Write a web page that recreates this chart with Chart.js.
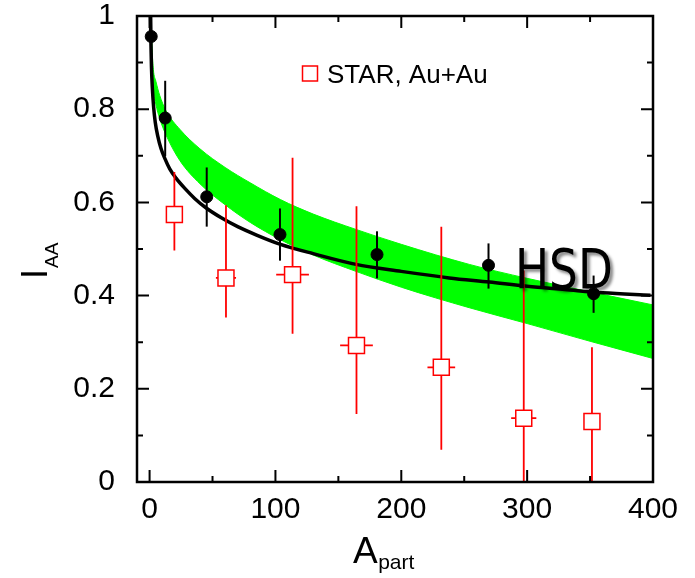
<!DOCTYPE html>
<html>
<head>
<meta charset="utf-8">
<script src="https://cdn.jsdelivr.net/npm/chart.js@4.4.1/dist/chart.umd.min.js"></script>
<style>
html, body { margin: 0; padding: 0; background: #fff; }
#wrap { width: 695px; height: 578px; }
</style>
</head>
<body>
<div id="wrap"><canvas id="chart" width="695" height="578"></canvas></div>
<script>
// black points with error bars
const hsdX = [1.3, 12.4, 45.4, 103.6, 180.7, 269.3, 352.8];
const hsdY = [0.956, 0.781, 0.612, 0.531, 0.488, 0.465, 0.404];
const hsdLo = [0.91, 0.699, 0.548, 0.475, 0.437, 0.415, 0.363];
const hsdHi = [1.02, 0.861, 0.675, 0.587, 0.538, 0.512, 0.443];

// STAR, Au+Au (red open squares)
const starX = [19.7, 60.7, 113.6, 164.4, 231.8, 297.3, 351.5];
const starY = [0.574, 0.438, 0.445, 0.293, 0.246, 0.137, 0.130];
const starLo = [0.497, 0.353, 0.318, 0.146, 0.069, 0, 0];
const starHi = [0.665, 0.594, 0.696, 0.592, 0.548, 0.454, 0.289];
const starXErr = [3, 8, 13, 13, 11, 10, 5];

// HSD curve
const curveX = [0.6, 1.0, 1.5, 2.2, 3.2, 4.5, 6.5, 9, 12, 16, 21, 28, 36, 45, 57, 70, 85, 104, 130, 164, 200, 238, 270, 300, 330, 360, 398];
const curveY = [1.02, 0.95, 0.89, 0.845, 0.805, 0.772, 0.742, 0.716, 0.695, 0.672, 0.652, 0.63, 0.608, 0.588, 0.567, 0.548, 0.53, 0.51, 0.49, 0.467, 0.452, 0.438, 0.429, 0.42, 0.413, 0.406, 0.401];

// green band
const bandX = [1.2, 2, 3, 5, 8, 13, 24, 40, 60, 80, 104, 130, 164, 200, 254, 300, 350, 400];
const bandHi = [1.0, 0.93, 0.885, 0.86, 0.83, 0.797, 0.757, 0.715, 0.675, 0.642, 0.606, 0.575, 0.542, 0.51, 0.467, 0.437, 0.408, 0.38];
const bandLo = [0.99, 0.87, 0.84, 0.81, 0.78, 0.745, 0.69, 0.64, 0.595, 0.557, 0.52, 0.487, 0.452, 0.418, 0.374, 0.34, 0.302, 0.265];

// axes
const xTicks = [0, 100, 200, 300, 400];
const xMinor = [50, 150, 250, 350];
const yTicks = [0, 0.2, 0.4, 0.6, 0.8, 1];
const yLabels = ['0', '0.2', '0.4', '0.6', '0.8', '1'];
const yMinor = [0.1, 0.3, 0.5, 0.7, 0.9];

const FONT = "'Liberation Sans', Arial, sans-serif";

function pts(xs, ys) {
    return xs.map((x, i) => ({ x: x, y: ys[i] }));
}

// error bars, drawn right after the curve so the markers sit on top
const errorBars = {
    id: 'errorBars',
    afterDatasetDraw(chart, args) {
        if (args.index !== 2) return;
        const ctx = chart.ctx;
        const xs = chart.scales.x, ys = chart.scales.y;
        const a = chart.chartArea;
        ctx.save();
        ctx.beginPath();
        ctx.rect(a.left, a.top, a.right - a.left, a.bottom - a.top);
        ctx.clip();
        ctx.lineWidth = 1.8;
        ctx.strokeStyle = '#ff0000';
        starX.forEach((x, i) => {
            const px = xs.getPixelForValue(x);
            const py = ys.getPixelForValue(starY[i]);
            ctx.beginPath();
            ctx.moveTo(px, ys.getPixelForValue(starHi[i]));
            ctx.lineTo(px, ys.getPixelForValue(starLo[i]));
            ctx.moveTo(xs.getPixelForValue(x - starXErr[i]), py);
            ctx.lineTo(xs.getPixelForValue(x + starXErr[i]), py);
            ctx.stroke();
        });
        ctx.lineWidth = 2;
        ctx.strokeStyle = '#000';
        hsdX.forEach((x, i) => {
            const px = xs.getPixelForValue(x);
            ctx.beginPath();
            ctx.moveTo(px, ys.getPixelForValue(hsdHi[i]));
            ctx.lineTo(px, ys.getPixelForValue(hsdLo[i]));
            ctx.stroke();
        });
        ctx.restore();
    }
};

// frame, inside ticks, titles, legend and label
const decorations = {
    id: 'decorations',
    afterDraw(chart) {
        const ctx = chart.ctx;
        const xs = chart.scales.x, ys = chart.scales.y;
        const a = chart.chartArea;
        ctx.save();
        ctx.strokeStyle = '#000';
        ctx.lineWidth = 2;
        const tick = (vals, len) => {
            vals.forEach(v => {
                const px = xs.getPixelForValue(v);
                ctx.beginPath();
                ctx.moveTo(px, a.bottom); ctx.lineTo(px, a.bottom - len);
                ctx.moveTo(px, a.top); ctx.lineTo(px, a.top + len);
                ctx.stroke();
            });
        };
        const ytick = (vals, len) => {
            vals.forEach(v => {
                const py = ys.getPixelForValue(v);
                ctx.beginPath();
                ctx.moveTo(a.left, py); ctx.lineTo(a.left + len, py);
                ctx.moveTo(a.right, py); ctx.lineTo(a.right - len, py);
                ctx.stroke();
            });
        };
        tick(xTicks, 12);
        tick(xMinor, 6);
        ytick(yTicks, 12);
        ytick(yMinor, 6);

        ctx.lineWidth = 2.5;
        ctx.strokeRect(a.left, a.top, a.right - a.left, a.bottom - a.top);

        // legend
        ctx.lineWidth = 1.5;
        ctx.strokeStyle = '#ff0000';
        ctx.strokeRect(302.5, 66, 15, 15);
        ctx.fillStyle = '#000';
        ctx.font = '26px ' + FONT;
        ctx.textBaseline = 'alphabetic';
        ctx.textAlign = 'left';
        ctx.fillText('STAR, Au+Au', 327, 83);

        // y title
        ctx.save();
        ctx.translate(47, 279);
        ctx.rotate(-Math.PI / 2);
        ctx.font = '36px ' + FONT;
        ctx.fillText('I', 0, 0);
        const wI = ctx.measureText('I').width;
        ctx.font = '19px ' + FONT;
        ctx.fillText('AA', wI + 1, 11);
        ctx.restore();

        // x title
        ctx.font = '37px ' + FONT;
        ctx.fillText('A', 353, 563);
        const wA = ctx.measureText('A').width;
        ctx.font = '21px ' + FONT;
        ctx.fillText('part', 353 + wA + 0.5, 569);

        // HSD label
        ctx.save();
        ctx.translate(515, 288);
        ctx.scale(0.81, 1);
        ctx.font = "56px 'DejaVu Sans', sans-serif";
        ctx.shadowColor = 'rgba(0,0,0,0.45)';
        ctx.shadowOffsetX = 3;
        ctx.shadowOffsetY = 3;
        ctx.shadowBlur = 3;
        ctx.fillStyle = '#000';
        ctx.fillText('HSD', 0, 0);
        ctx.restore();

        ctx.restore();
    }
};

const chart = new Chart(document.getElementById('chart'), {
    type: 'scatter',
    data: {
        datasets: [
            {
                label: 'HSD points',
                data: pts(hsdX, hsdY),
                pointStyle: 'circle',
                pointRadius: 6,
                backgroundColor: '#000',
                borderColor: '#000',
                borderWidth: 1,
                order: 0
            },
            {
                label: 'STAR, Au+Au',
                data: pts(starX, starY),
                pointStyle: 'rect',
                pointRadius: 11.3,
                backgroundColor: '#fff',
                borderColor: '#ff0000',
                borderWidth: 1.5,
                order: 0
            },
            {
                label: 'HSD',
                data: pts(curveX, curveY),
                showLine: true,
                borderColor: '#000',
                borderWidth: 3.5,
                pointRadius: 0,
                cubicInterpolationMode: 'monotone',
                order: 2
            },
            {
                label: 'band upper',
                data: pts(bandX, bandHi),
                showLine: true,
                borderColor: '#00ff00',
                borderWidth: 1,
                pointRadius: 0,
                fill: false,
                cubicInterpolationMode: 'monotone',
                order: 3
            },
            {
                label: 'band lower',
                data: pts(bandX, bandLo),
                showLine: true,
                borderColor: '#00ff00',
                backgroundColor: '#00ff00',
                borderWidth: 1,
                pointRadius: 0,
                fill: '-1',
                cubicInterpolationMode: 'monotone',
                order: 3
            }
        ]
    },
    options: {
        responsive: false,
        animation: false,
        layout: {
            padding: { top: 16, right: 42, left: 0, bottom: 0 }
        },
        plugins: {
            legend: { display: false },
            tooltip: { enabled: false }
        },
        scales: {
            x: {
                type: 'linear',
                min: -10,
                max: 400,
                afterBuildTicks: s => { s.ticks = xTicks.map(v => ({ value: v })); },
                afterFit: s => {
                    s.height = 96;
                    s.paddingLeft = 0;
                    s.paddingRight = 0;
                },
                grid: { display: false, drawTicks: false },
                border: { display: false },
                ticks: {
                    color: '#000',
                    font: { family: FONT, size: 30, lineHeight: 1 },
                    padding: 13,
                    maxRotation: 0,
                    autoSkip: false
                }
            },
            y: {
                type: 'linear',
                min: 0,
                max: 1,
                afterBuildTicks: s => { s.ticks = yTicks.map(v => ({ value: v })); },
                afterFit: s => {
                    s.width = 137;
                    s.paddingTop = 0;
                    s.paddingBottom = 0;
                },
                grid: { display: false, drawTicks: false },
                border: { display: false },
                ticks: {
                    color: '#000',
                    font: { family: FONT, size: 30, lineHeight: 1 },
                    padding: 22,
                    autoSkip: false,
                    callback: (v, i) => yLabels[i]
                }
            }
        }
    },
    plugins: [errorBars, decorations]
});
</script>
</body>
</html>
